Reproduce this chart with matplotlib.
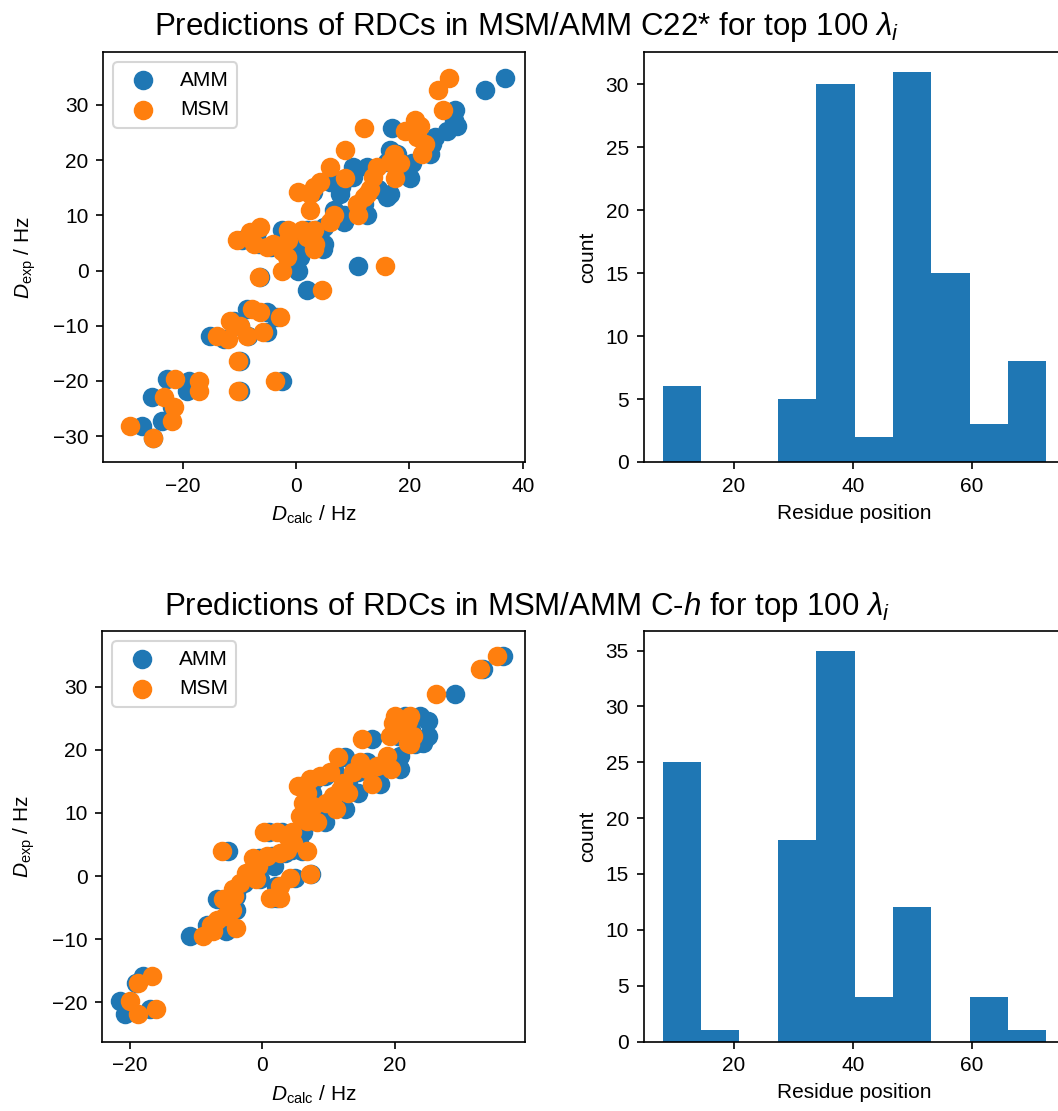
import numpy as np
import matplotlib
matplotlib.use("Agg")
import matplotlib.pyplot as plt

plt.rcParams['font.family'] = ['Liberation Sans', 'DejaVu Sans']
plt.rcParams['mathtext.fontset'] = 'custom'
plt.rcParams['mathtext.rm'] = 'Liberation Sans'
plt.rcParams['mathtext.it'] = 'Liberation Sans:italic'
plt.rcParams['font.size'] = 10

# C22* : experimental RDCs and the two model predictions (Hz)
d_exp_c22 = [34.8, 32.8, 29.1, 27.3, 26.1, 25.9, 25.2, 24.2, 23.0, 21.8,
             21.2, 21.2, 19.7, 19.4, 18.8, 18.8, 17.0, 16.7, 16.7, 16.1,
             15.2, 14.8, 14.2, 13.9, 13.3, 13.9, 12.1, 10.9, 10.0, 10.0,
             8.8, 7.9, 7.3, 7.3, 7.3, 7.0, 6.1, 5.5, 5.5, 4.8,
             4.8, 4.8, 4.2, 3.9, 3.6, 2.4, 0.0, 0.9, -1.2, -3.6,
             -7.0, -7.6, -8.5, -9.1, -10.0, -11.8, -12.4, -11.2, -11.8, -16.4,
             -21.8, -20.0, -19.7, -20.0, -21.8, -23.0, -24.8, -27.3, -28.2, -30.3]
d_amm_c22 = [36.9, 33.4, 28.1, 27.8, 28.4, 16.9, 26.6, 24.5, 24.0, 16.6,
             23.6, 17.8, 16.0, 20.5, 12.5, 10.0, 10.1, 20.1, 9.0, 6.0,
             8.0, 14.5, 3.0, 16.6, 16.0, 7.8, 12.0, 6.6, 12.5, 8.4,
             8.4, 5.0, -2.5, 3.5, 2.0, -7.0, 3.0, -0.5, -9.5, 5.0,
             -3.0, -6.5, -4.5, 4.8, 0.0, 0.7, 0.4, 11.0, -6.4, 1.9,
             -8.7, -5.2, -3.5, -11.0, -10.0, -15.2, -12.8, -5.2, -8.5, -9.9,
             -10.0, -2.5, -22.8, -19.0, -19.3, -25.5, -22.0, -23.7, -27.2, -25.2]
d_msm_c22 = [26.9, 25.1, 26.0, 21.0, 21.9, 11.9, 19.2, 21.3, 22.8, 8.6,
             22.2, 17.2, 16.6, 18.4, 14.2, 6.0, 13.6, 17.5, 8.6, 4.2,
             3.1, 13.1, 0.4, 12.5, 12.0, 2.5, 10.7, 2.5, 11.0, 6.6,
             6.0, -6.4, -1.4, 3.1, 1.0, -8.1, 1.9, -1.4, -10.5, 3.4,
             -4.0, -7.5, -5.2, 3.1, -2.5, -1.6, -2.5, 15.7, -6.6, 4.5,
             -7.8, -6.4, -2.8, -11.6, -9.9, -14.0, -12.0, -5.8, -8.7, -10.2,
             -10.2, -3.7, -21.4, -17.2, -17.2, -23.4, -21.6, -21.9, -29.3, -25.2]

# C-h
d_exp_ch = [34.9, 32.8, 28.9, 25.4, 25.4, 24.6, 24.3, 23.2, 22.2, 22.2,
            21.7, 21.1, 20.9, 19.0, 18.8, 18.0, 17.4, 16.9, 16.9, 16.4,
            16.4, 15.8, 15.3, 14.8, 14.5, 14.3, 13.7, 13.2, 13.2, 12.7,
            11.6, 11.6, 11.1, 10.6, 9.5, 8.7, 8.5, 6.9, 6.9, 6.9,
            6.3, 5.3, 4.0, 4.0, 4.2, 3.7, 3.2, 2.9, 1.6, 0.5,
            0.3, -0.3, -0.5, -1.1, -1.6, -2.1, -3.4, -3.4, -3.2, -3.7,
            -5.3, -6.3, -6.9, -7.7, -8.2, -8.7, -9.5, -15.8, -16.9, -19.8,
            -21.1, -21.9]
d_amm_ch = [36.4, 33.4, 29.1, 23.8, 21.5, 25.1, 21.5, 22.5, 25.1, 20.5,
            16.5, 24.3, 23.0, 20.8, 12.5, 15.8, 18.5, 20.8, 16.5, 14.5,
            11.0, 9.5, 8.0, 13.0, 17.8, 6.0, 12.5, 14.5, 7.5, 11.5,
            6.8, 10.5, 8.5, 12.5, 6.5, 7.5, 9.5, 1.0, 3.0, 6.2,
            4.5, 5.5, -5.1, 6.0, 4.5, 3.5, 1.5, -0.5, 1.7, -1.5,
            7.3, 5.0, -0.4, -2.8, 2.0, -3.8, 1.5, 2.3, -3.9, -6.9,
            -4.0, -5.0, -6.5, -8.4, -4.5, -5.4, -10.9, -18.0, -19.0, -21.5,
            -17.0, -20.7]
d_msm_ch = [35.4, 32.9, 26.3, 22.3, 20.0, 22.0, 19.8, 20.8, 22.8, 19.3,
            15.0, 22.0, 22.3, 18.8, 11.5, 14.8, 17.3, 19.5, 15.8, 13.7,
            10.2, 8.7, 7.2, 12.2, 16.5, 5.4, 11.7, 13.0, 6.7, 10.7,
            6.1, 9.7, 7.7, 11.2, 5.7, 6.7, 8.2, 0.2, 2.2, 4.5,
            3.7, 4.7, -6.1, 6.7, 3.7, 2.7, 0.7, -1.4, -0.6, -2.4,
            7.2, 4.2, -1.0, -3.4, 2.7, -4.4, 1.2, 2.7, -4.2, -5.9,
            -4.6, -5.6, -6.9, -7.8, -3.9, -7.4, -8.9, -16.7, -18.7, -20.0,
            -16.0, -18.7]

# residue histograms of the top 100 lambda_i
bin_edges = np.linspace(8, 72.5, 11)
counts_c22 = [6, 0, 0, 5, 30, 2, 31, 15, 3, 8]
counts_ch = [25, 1, 0, 18, 35, 4, 12, 0, 4, 1]

W, H = 1058, 1111
fig = plt.figure(figsize=(W / 150, H / 150), dpi=150)


def px_axes(left, top, right, bottom):
    return fig.add_axes([left / W, 1 - bottom / H, (right - left) / W, (bottom - top) / H])


def scatter_panel(ax, d_exp, d_amm, d_msm, xlim, ylim):
    ax.scatter(d_amm, d_exp, s=70, label="AMM")
    ax.scatter(d_msm, d_exp, s=70, label="MSM")
    ax.set_xlim(xlim)
    ax.set_ylim(ylim)
    ax.set_xlabel(r"$D_\mathrm{calc}$ / Hz")
    ax.set_ylabel(r"$D_\mathrm{exp}$ / Hz", labelpad=7)
    ax.legend(loc="upper left")


def hist_panel(ax, counts):
    centers = (bin_edges[:-1] + bin_edges[1:]) / 2
    ax.hist(centers, bins=bin_edges, weights=counts)
    ax.set_xlabel("Residue position")
    ax.set_ylabel("count")


ax1 = px_axes(103, 52, 525, 462)
scatter_panel(ax1, d_exp_c22, d_amm_c22, d_msm_c22, (-34.1, 40.4), (-34.7, 39.6))
ax2 = px_axes(643.5, 52, 1065.5, 462)
hist_panel(ax2, counts_c22)

ax3 = px_axes(102, 631, 524.5, 1041.5)
scatter_panel(ax3, d_exp_ch, d_amm_ch, d_msm_ch, (-24.2, 39.6), (-26.2, 38.8))
ax4 = px_axes(643.5, 631, 1065.5, 1041.5)
hist_panel(ax4, counts_ch)

fig.text(527 / W, 1 - 35 / H, r"Predictions of RDCs in MSM/AMM C22* for top 100 $\lambda_i$",
         ha="center", va="baseline", fontsize=15)
fig.text(527 / W, 1 - 615 / H, r"Predictions of RDCs in MSM/AMM C-$h$ for top 100 $\lambda_i$",
         ha="center", va="baseline", fontsize=15)

fig.savefig("out.png", dpi=150)
